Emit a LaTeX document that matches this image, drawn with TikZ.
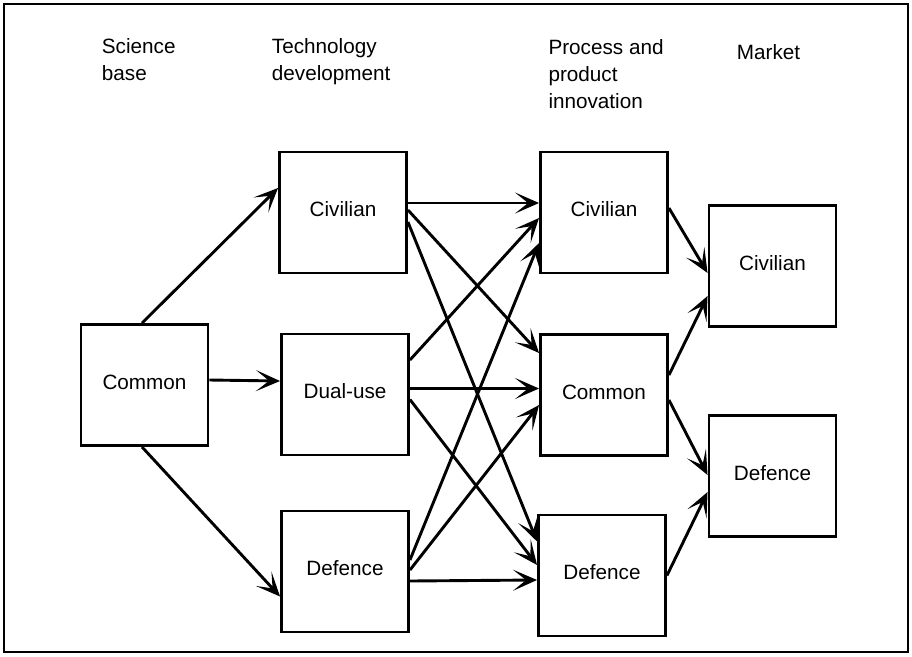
\documentclass[tikz,border=0pt]{standalone}
\usepackage{fontspec}
\setmainfont{Liberation Sans}
\usetikzlibrary{arrows.meta, positioning}

\begin{document}
\begin{tikzpicture}[x=1pt, y=-1pt,
		box/.style={draw, line width=2.9pt, minimum width=127pt, minimum height=121pt, inner sep=0pt, text height=15pt, text depth=7pt},
		head/.style={anchor=north west, inner sep=0pt, align=left},
		flow/.style={line width=2.9pt, -{Stealth[length=24pt, width=21pt, inset=13pt]}},
		font=\fontsize{20.7}{27}\selectfont]
			\useasboundingbox (0,0) rectangle (912,656);
			%% Frame
			\draw[line width=2.6pt] (4,4) rectangle (908,652);

			%% Headings
			\node[head] (hsci) at (101.7,38) {Science\\base};
			\node[head] (htech) at (271.7,38) {Technology\\development};
			\node[head] (hproc) at (548.3,39) {Process and\\product\\innovation};
			\node[head] (hmkt) at (736.7,44) {Market};

			%% Science base
			\node[box] (sci) at (144.5,385) {Common};

			%% Technology development
			\node[box] (tciv) at (343,212.5) {Civilian};
			\node[box] (tdual) at (345,394.5) {Dual-use};
			\node[box] (tdef) at (345,571.5) {Defence};

			%% Process and product innovation
			\node[box] (pciv) at (604,212.5) {Civilian};
			\node[box] (pcom) at (604,395) {Common};
			\node[box] (pdef) at (602,575.5) {Defence};

			%% Market
			\node[box] (mciv) at (772.5,266) {Civilian};
			\node[box] (mdef) at (772.5,476) {Defence};

			%% Science -> technology
			\draw[flow] ([xshift=-2.5pt]sci.north) -- ([yshift=24.5pt]tciv.west);
			\draw[flow] ([yshift=5pt]sci.east) -- ([yshift=13.5pt]tdual.west);
			\draw[flow] ([xshift=-2.5pt]sci.south) -- ([yshift=-25pt]tdef.west);

			%% Technology -> innovation
			\draw[flow] ([yshift=9.5pt]tciv.east) -- ([yshift=9.5pt]pciv.west);
			\draw[flow] ([yshift=2.5pt]tciv.east) -- ([yshift=42pt]pcom.west);
			\draw[flow] ([yshift=-9.5pt]tciv.east) -- ([yshift=34pt]pdef.west);
			\draw[flow] ([yshift=34.5pt]tdual.east) -- ([yshift=-5.5pt]pciv.west);
			\draw[flow] ([xshift=-3pt,yshift=6pt]tdual.east) -- ([yshift=6.5pt]pcom.west);
			\draw[flow] ([yshift=-5pt]tdual.east) -- ([yshift=10.5pt]pdef.west);
			\draw[flow] ([yshift=11.5pt]tdef.east) -- ([yshift=-30.5pt]pciv.west);
			\draw[flow] ([yshift=1.5pt]tdef.east) -- ([yshift=-10pt]pcom.west);
			\draw[flow] ([yshift=-9.5pt]tdef.east) -- ([yshift=-4.5pt]pdef.west);

			%% Innovation -> market
			\draw[flow] ([yshift=4.5pt]pciv.east) -- ([yshift=-7pt]mciv.west);
			\draw[flow] ([yshift=20pt]pcom.east) -- ([yshift=-30pt]mciv.west);
			\draw[flow] ([yshift=-5pt]pcom.east) -- ([yshift=1pt]mdef.west);
			\draw[flow] (pdef.east) -- ([yshift=-16pt]mdef.west);
		\end{tikzpicture}
\end{document}
